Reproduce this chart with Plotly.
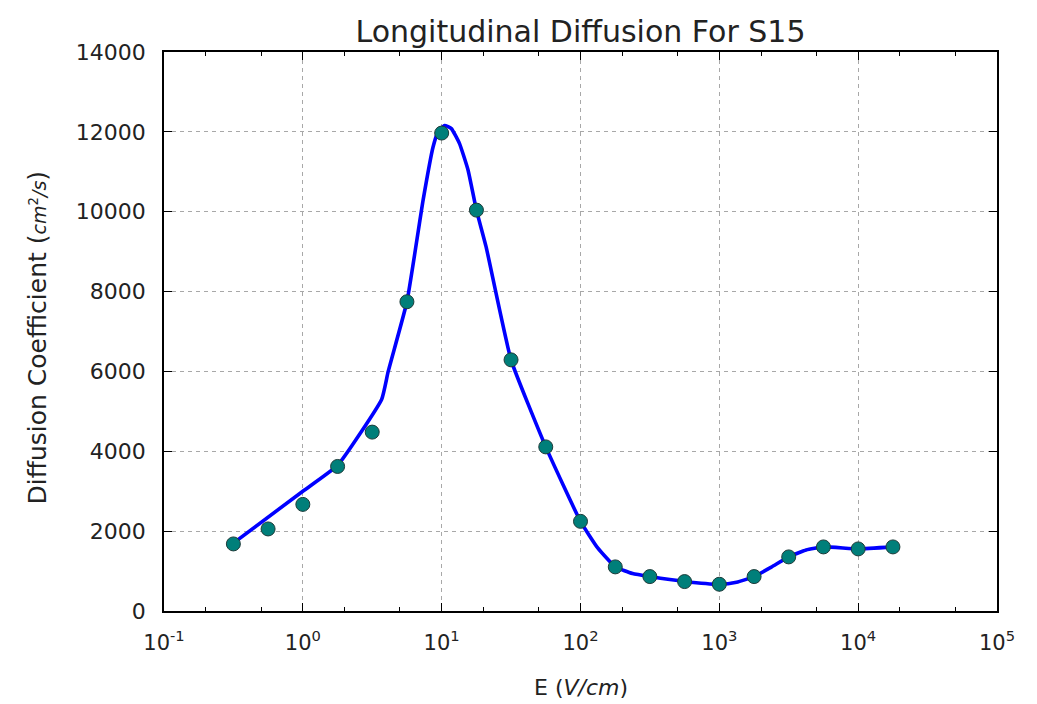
import plotly.graph_objects as go

# Measured data points (markers)
E_points = [0.316, 0.562, 1.0, 1.78, 3.16, 5.62, 10, 17.8, 31.6, 56.2, 100,
            178, 316, 562, 1000, 1780, 3160, 5620, 10000, 17800]
D_points = [1680, 2055, 2670, 3620, 4480, 7745, 11970, 10040, 6290, 4110, 2245,
            1105, 862, 737, 670, 862, 1355, 1605, 1555, 1605]

# Curve
E_curve = [0.316, 1.0, 1.78, 3.7, 4.12, 5.62, 7.35, 8.67, 9.42, 10.5, 11.75,
           13.45, 15.5, 17.8, 20.9, 31.6, 56.2, 100, 133, 178, 237, 316, 562, 1000,
           1330, 1780, 2370, 3160, 4220, 5620, 10000, 17800]
D_curve = [1700, 3000, 3650, 5305, 6000, 7745, 10290, 11620, 11995, 12160, 12080,
           11705, 11040, 10040, 9120, 6290, 4110, 2245, 1580, 1105, 937, 862, 740, 670,
           720, 862, 1100, 1355, 1530, 1605, 1555, 1605]

x_tickvals = [0.1, 1, 10, 100, 1000, 10000, 100000]
x_ticktext = ["10<sup>-1</sup>", "10<sup>0</sup>", "10<sup>1</sup>", "10<sup>2</sup>",
              "10<sup>3</sup>", "10<sup>4</sup>", "10<sup>5</sup>"]
y_tickvals = [0, 2000, 4000, 6000, 8000, 10000, 12000, 14000]
y_ticktext = ["0", "2000", "4000", "6000", "8000", "10000", "12000", "14000"]

FONT = "DejaVu Sans"

fig = go.Figure()
fig.add_trace(go.Scatter(x=E_curve, y=D_curve, mode="lines",
                         line=dict(color="#0000ff", width=3.6, shape="spline", smoothing=0.4),
                         showlegend=False))
fig.add_trace(go.Scatter(x=E_points, y=D_points, mode="markers",
                         marker=dict(color="#007f7a", size=14,
                                     line=dict(color="#1d3b39", width=1)),
                         showlegend=False))

axis_common = dict(showline=True, linecolor="black", linewidth=1.6, mirror="allticks",
                   ticks="inside", tickcolor="black", ticklen=8, tickwidth=1.2,
                   showgrid=True, gridcolor="#a8a8a8", griddash="4px,4px", gridwidth=1,
                   zeroline=False, ticklabelstandoff=12)

fig.update_xaxes(type="log", range=[-1, 5], tickvals=x_tickvals, ticktext=x_ticktext,
                 tickfont=dict(family=FONT, size=21, color="#222"),
                 minor=dict(ticks="inside", ticklen=4, tickcolor="black", showgrid=False),
                 **axis_common)
fig.update_yaxes(range=[0, 14000], tickvals=y_tickvals, ticktext=y_ticktext,
                 tickfont=dict(family=FONT, size=22, color="#222"),
                 **axis_common)

fig.update_layout(
    width=1037, height=704,
    margin=dict(l=164, r=40, t=52, b=93),
    paper_bgcolor="white", plot_bgcolor="white",
    font=dict(family=FONT, color="#222"),
    title=dict(text="Longitudinal Diffusion For S15", x=0.5, xanchor="center",
               xref="paper", y=1 - 31 / 704, yanchor="middle",
               font=dict(family=FONT, size=30, color="#222")),
    annotations=[
        dict(text="E (<i>V/cm</i>)", xref="paper", yref="paper", x=0.5, y=0,
             xanchor="center", yanchor="top", yshift=-62, showarrow=False,
             font=dict(family=FONT, size=22, color="#222")),
        dict(text="Diffusion Coefficient (<span style='font-size:19px'><i>cm</i>"
                  "<sup>2</sup><i>/s</i></span>)",
             xref="paper", yref="paper", x=0, y=0.5, xanchor="center",
             yanchor="middle", xshift=-127, yshift=-6, textangle=-90, showarrow=False,
             font=dict(family=FONT, size=25, color="#222")),
    ],
)

fig.write_html("out.html")
